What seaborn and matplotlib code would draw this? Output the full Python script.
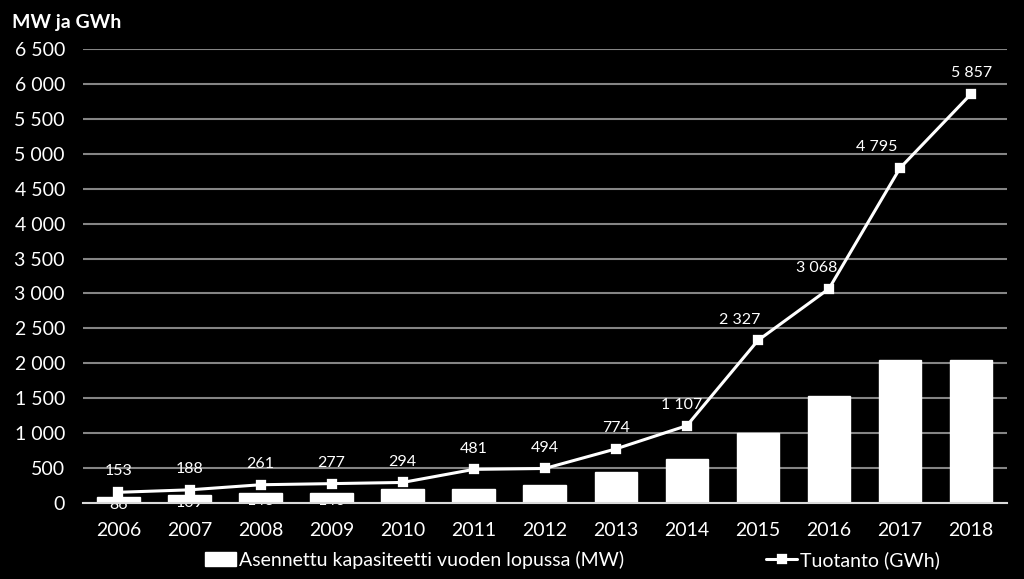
import numpy as np
import pandas as pd
import matplotlib.pyplot as plt
import seaborn as sns

# data
years = ['2006', '2007', '2008', '2009', '2010', '2011', '2012',
         '2013', '2014', '2015', '2016', '2017', '2018']
capacity_mw = [86, 109, 143, 146, 197, 199, 257, 448, 627, 1005, 1533, 2044, 2041]
production_gwh = [153, 188, 261, 277, 294, 481, 494, 774, 1107, 2327, 3068, 4795, 5857]
y_ticks = list(range(0, 6501, 500))
# horizontal nudge of production labels (points), as placed in original
label_dx = [0, 0, 0, 0, 0, 0, 0, 0, -4, -13, -9, -17, 0]

def fi_num(v):
    return f"{v:,}".replace(",", " ")

df = pd.DataFrame({'year': years, 'cap': capacity_mw, 'prod': production_gwh})

sns.set_style('dark')
plt.rcParams['font.family'] = ['Lato', 'DejaVu Sans']

fig = plt.figure(figsize=(10.24, 5.79), dpi=100, facecolor='black')
ax = fig.add_axes([0.081, 0.1313, 0.902, 0.7841])
ax.set_facecolor('black')

sns.barplot(data=df, x='year', y='cap', color='white', width=0.6, saturation=1,
            edgecolor='white', ax=ax, label='Asennettu kapasiteetti vuoden lopussa (MW)', zorder=2)
sns.pointplot(data=df, x='year', y='prod', color='white', marker='s', markersize=6,
              linewidth=2.2, ax=ax, label='Tuotanto (GWh)', zorder=3)

# bar labels (white, mostly hidden in the bars)
for i, v in enumerate(capacity_mw):
    ax.text(i, v - 15, fi_num(v), color='white', ha='center', va='top', fontsize=11.5, zorder=2.5)
# line labels
for i, v in enumerate(production_gwh):
    ax.annotate(fi_num(v), (i, v), xytext=(label_dx[i], 15), textcoords='offset points',
                color='white', ha='center', va='center', fontsize=11.5, zorder=4)

ax.set_ylim(0, 6500)
ax.set_xlim(-0.5, 12.5)
ax.set_yticks(y_ticks)
ax.set_yticklabels([fi_num(t) for t in y_ticks])
ax.yaxis.grid(True, color='#858585', linewidth=1.5, zorder=0)
ax.xaxis.grid(False)
ax.set_axisbelow(True)
ax.tick_params(axis='y', colors='white', labelsize=14, length=0, pad=13)
ax.tick_params(axis='x', colors='white', labelsize=14, length=0, pad=14)
ax.set_xticks(np.arange(-0.5, 13, 1), minor=True)
ax.tick_params(axis='x', which='minor', length=7, width=1.5, color='#d9d9d9', direction='out')
ax.set_xlabel('')
ax.set_ylabel('')
for s in ['left', 'right', 'top']:
    ax.spines[s].set_visible(False)
ax.spines['bottom'].set_color('#d9d9d9')
ax.spines['bottom'].set_linewidth(1.5)

fig.text(0.012, 0.962, 'MW ja GWh', color='white', fontsize=14, fontweight='bold',
         ha='left', va='center')

handles, labels = ax.get_legend_handles_labels()
order = [labels.index('Asennettu kapasiteetti vuoden lopussa (MW)'), labels.index('Tuotanto (GWh)')]
ax.legend([handles[k] for k in order], [labels[k] for k in order],
          loc='center', bbox_to_anchor=(0.53, -0.1256), ncol=2, frameon=False,
          fontsize=14, labelcolor='white', handlelength=1.6, handletextpad=0.15,
          columnspacing=7.3)

fig.savefig('out.png', dpi=100, facecolor='black')
